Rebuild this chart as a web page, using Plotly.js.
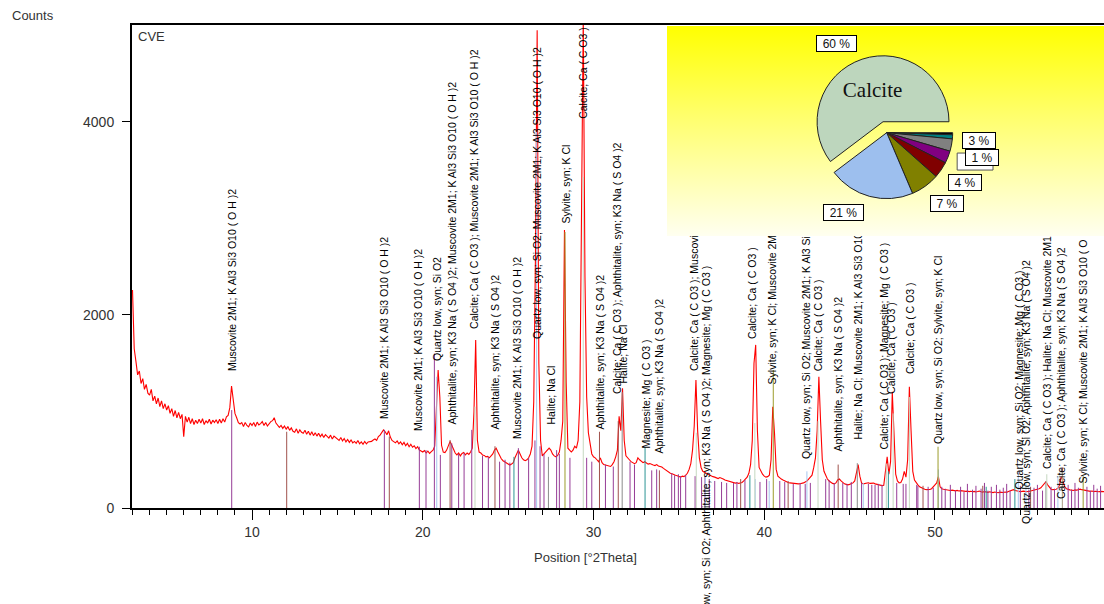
<!DOCTYPE html>
<html><head><meta charset="utf-8">
<script src="https://cdn.plot.ly/plotly-3.0.1.min.js"></script>
<style>
html,body{margin:0;padding:0;background:#fff;}
#wrap{position:relative;width:1104px;height:604px;overflow:hidden;}
#main{position:absolute;left:0;top:0;width:1104px;height:604px;}
#inset{position:absolute;left:667px;top:26px;width:437px;height:210px;background:linear-gradient(to bottom,#ffff00 0%,#ffff6a 42%,#fffff0 100%);}
</style></head><body>
<div id="wrap"><div id="main"></div><div id="inset"></div></div>
<script>
// ---- scan (Position [°2Theta] from scanStart in steps of scanStep) ----
const scanStart = 3.0;
const scanStep = 0.1;
const counts = [
2260,1650,1520,1380,1420,1290,1340,1230,1280,1190,
1170,1230,1110,1160,1080,1140,1050,1110,1030,1080,
1015,1060,980,1030,950,1010,935,990,925,970,
740,950,890,940,875,925,865,910,875,920,
880,925,865,905,880,920,870,910,885,915,
875,920,880,925,890,945,960,1040,1264,1120,
980,935,885,870,885,845,885,855,840,880,
855,885,845,890,860,875,895,855,885,850,
875,895,905,935,880,860,835,855,825,850,
815,845,805,830,795,785,820,775,810,785,
775,805,765,795,755,790,750,780,745,775,
740,765,730,760,740,725,755,715,745,730,
720,700,730,695,720,685,710,680,705,675,
690,670,700,665,685,660,690,665,685,690,
690,705,715,700,740,755,780,810,790,760,
800,735,700,685,675,695,665,685,655,680,
645,670,635,660,630,645,615,635,600,590,
580,595,570,590,565,585,600,640,1000,1430,
1150,650,580,575,600,640,690,650,600,570,
550,570,540,565,575,550,570,555,580,620,
1000,1740,700,580,570,550,545,530,535,520,
540,560,600,620,580,540,510,490,480,470,
460,445,455,470,520,570,600,560,520,500,
490,500,520,560,640,1100,2600,4950,1500,700,
540,560,580,610,620,600,560,540,530,545,
580,700,900,2880,1300,620,600,580,600,640,
620,700,1100,3200,5100,2400,1150,780,640,560,
530,520,500,480,520,470,450,445,440,435,
430,450,480,530,600,950,800,1240,700,540,
515,500,480,470,460,470,520,500,480,470,
480,470,455,460,450,445,440,450,435,430,
425,410,395,380,370,360,355,345,340,335,
330,320,330,325,340,360,400,460,600,850,
1326,800,520,420,380,365,360,350,340,335,
325,320,310,305,315,310,300,290,285,280,
275,265,260,258,262,255,260,265,280,300,
320,360,450,700,1500,1690,800,420,380,350,
330,320,325,340,500,1050,780,400,330,310,
300,290,280,270,265,260,258,255,250,255,
250,252,255,260,270,280,300,320,340,420,
520,800,1360,900,500,380,330,300,280,265,
255,250,260,290,300,280,260,250,245,240,
245,250,260,280,380,450,330,260,250,252,
258,262,255,260,258,250,245,240,235,232,
235,400,530,350,480,1205,750,350,280,260,
265,300,380,320,500,1257,800,380,290,260,
240,220,210,200,195,190,188,192,200,215,
240,260,325,220,200,195,190,185,188,182,
185,180,178,182,176,180,175,178,172,175,
170,174,168,172,166,170,175,168,165,170,
166,162,168,164,160,165,162,158,164,160,
160,165,162,170,178,185,190,182,175,172,
168,172,175,170,168,172,176,180,185,190,
195,200,210,230,250,273,240,210,195,190,
192,195,205,240,325,280,220,200,190,188,
185,182,188,185,190,195,190,185,182,178,
175,172,176,170,174,170,168,172,170,170
];

// ---- reference patterns (stick positions / intensities) ----
const muscovitePos = [8.81,17.75,19.8,20.19,20.68,21.03,21.7,22.1,22.42,22.87,23.5,23.84,24.5,24.82,25.1,25.6,26.2,26.57,26.87,27.1,27.84,28.0,28.62,29.6,29.9,30.7,31.16,32.14,32.4,33.41,33.7,34.58,34.75,34.97,35.1,35.4,35.95,36.33,36.53,36.78,37.1,37.5,37.8,38.2,38.4,38.87,39.75,40.14,40.91,41.2,41.7,42.1,42.4,42.7,43.6,43.8,44.1,44.6,44.85,45.1,45.7,46.1,46.3,46.49,46.68,46.9,47.76,48.14,48.3,48.93,49.0,49.6,49.9,50.4,50.6,50.9,51.2,51.5,51.7,51.9,52.2,52.4,52.7,52.9,53.1,53.3,53.6,53.8,54.0,54.2,54.4,55.0,55.5,55.8,56.0,56.3,56.8,57.0,57.8,58.0,58.2,58.4,58.9,59.1,59.3,59.5,59.7];
const muscoviteInt = [1015,810,635,600,1600,550,670,560,570,810,540,530,480,500,470,620,520,700,640,560,600,560,520,520,480,450,430,480,450,390,400,360,340,350,330,340,330,320,330,300,280,270,260,260,270,290,270,300,280,270,250,260,250,260,300,290,260,260,250,270,260,250,240,240,250,240,260,250,250,240,230,220,210,220,200,240,180,220,170,250,190,230,200,260,180,220,240,190,210,250,180,230,190,210,240,180,220,200,240,190,260,210,220,180,240,200,230];
const aphthitalitePos = [12.03,18.04,21.6,24.23,30.35,31.45,33.86,38.62,41.4,44.33,49.3,52.8,55.6,57.47];
const aphthitaliteInt = [790,740,705,640,790,900,390,300,280,450,230,230,220,420];
const quartzPos = [20.82,26.67,36.55,39.47,40.29,42.5,45.8,50.2,54.88,55.33,57.2];
const quartzInt = [1360,3900,330,300,280,380,260,400,380,260,330];
const calcitePos = [23.06,29.4,36.02,39.45,43.15,47.15,47.55,48.5,56.55,57.45];
const calciteInt = [1050,3430,780,880,900,460,980,1150,350,380];
const sylvitePos = [28.33,40.53,50.18,58.68];
const sylviteInt = [2860,1430,635,330];
const halitePos = [27.36,31.68,45.45,56.5];
const haliteInt = [530,1200,465,280];
const magnesitePos = [25.34,33.02,39.16,47.27,53.0,54.68];
const magnesiteInt = [530,630,340,380,220,300];

// ---- peak labels ----
const C = 'Calcite; Ca ( C O3 )';
const A = 'Aphthitalite, syn; K3 Na ( S O4 )2';
const M = 'Muscovite 2M1; K Al3 Si3 O10 ( O H )2';
const Q = 'Quartz low, syn; Si O2';
const H = 'Halite; Na Cl';
const S = 'Sylvite, syn; K Cl';
const G = 'Magnesite; Mg ( C O3 )';
const peakLabelText = [M, M, M, Q, A+'; '+M, C+'; '+M, A, M, Q+'; '+M, H,
  S, C, A, C+'; '+A, H, G, A, C+'; '+M, Q+'; '+A+'; '+G, C,
  S+'; '+M, Q+'; '+M, C, A, H+'; '+M, C+'; '+G, C, C, Q+'; '+S, Q+'; '+G,
  Q+'; '+A, C+'; '+H+'; '+M, C+'; '+A, S+'; '+M];
const peakLabelPos = [8.83,17.73,19.72,20.83,21.71,23.0,24.23,25.52,26.69,27.51,
  28.39,29.38,30.38,31.38,31.73,33.02,33.78,35.89,36.59,39.28,
  40.51,42.45,43.16,44.32,45.49,47.01,47.42,48.54,50.18,54.92,
  55.33,56.56,57.38,58.67];
const peakLabelBase = [1409,912,788,1513,860,1845,808,705,1741,860,
  2933,4021,808,1171,1275,601,549,1409,-1430,1741,
  1275,497,1409,580,705,601,1171,1378,653,187,
  -176,394,83,238];

// ---- phase quantification (pie), clockwise from 3 o'clock ----
const pieMinerals = ['Other','Magnesite','Halite','Muscovite','Aphthitalite','Sylvite','Quartz','Calcite'];
const pieShares = [0.5,1,3,3,4,7,21,60];

const yMax = 5005;
const xRange = [2.97, 59.9];

// ------------------------------------------------------------
function sticks(pos, inten, color) {
  const x = [], y = [];
  for (let i = 0; i < Math.min(pos.length, inten.length); i++) {
    x.push(pos[i], pos[i], null);
    y.push(0, inten[i], null);
  }
  return {type:'scatter', mode:'lines', x:x, y:y, line:{color:color, width:1}, hoverinfo:'skip', connectgaps:false};
}

const traces = [
  {type:'scatter', mode:'lines', x0:scanStart, dx:scanStep, y:counts, line:{color:'#ff0000', width:1.1}, hoverinfo:'skip'},
  sticks(muscovitePos, muscoviteInt, '#963c96'),
  sticks(aphthitalitePos, aphthitaliteInt, '#a0524d'),
  sticks(magnesitePos, magnesiteInt, '#2c9494'),
  sticks(halitePos, haliteInt, '#8c8c8c'),
  sticks(quartzPos, quartzInt, '#a6c6ee'),
  sticks(calcitePos, calciteInt, '#c5d8c0'),
  sticks(sylvitePos, sylviteInt, '#9c9c2c')
];

const annotations = [];
for (let i = 0; i < peakLabelText.length; i++) {
  const b = peakLabelBase[i];
  const a = {x: peakLabelPos[i], xref:'x', text: peakLabelText[i], textangle:-90,
    showarrow:false, xanchor:'center', yanchor:'bottom', borderpad:0,
    font:{family:'Liberation Sans, Arial, sans-serif', size:10.5, color:'#000'}};
  if (b < 0) { a.yref = 'paper'; a.y = b / yMax; } else { a.yref = 'y'; a.y = b; }
  annotations.push(a);
}
annotations.push({xref:'paper', yref:'paper', x:-0.1255, y:1.0207, xanchor:'left', yanchor:'middle', text:'Counts', showarrow:false, font:{family:'Liberation Sans, Arial', size:13, color:'#333'}});
annotations.push({xref:'paper', yref:'paper', x:0.004, y:0.977, xanchor:'left', yanchor:'middle', text:'CVE', showarrow:false, font:{family:'Liberation Sans, Arial', size:13, color:'#333'}});
annotations.push({xref:'paper', yref:'paper', x:0.467, y:-0.1035, xanchor:'center', yanchor:'middle', text:'Position [°2Theta]', showarrow:false, font:{family:'Liberation Sans, Arial', size:13, color:'#333'}});

const layout = {
  width:1104, height:604,
  margin:{l:132, r:0, t:25, b:96, pad:0},
  paper_bgcolor:'#ffffff', plot_bgcolor:'#ffffff',
  showlegend:false, hovermode:false,
  xaxis:{range:xRange, tick0:0, dtick:10, ticks:'outside', ticklen:10, tickwidth:1, tickcolor:'#000',
    showline:true, linewidth:2, linecolor:'#000', mirror:true, showgrid:false, zeroline:false,
    tickfont:{family:'Liberation Sans, Arial', size:14, color:'#333'},
    minor:{dtick:1, tick0:0, ticks:'outside', ticklen:5, tickwidth:1, tickcolor:'#000', showgrid:false}},
  yaxis:{range:[0, yMax], tick0:0, dtick:2000, ticks:'outside', ticklen:8, tickwidth:1, tickcolor:'#000',
    showline:true, linewidth:2, linecolor:'#000', showgrid:false, zeroline:false, ticklabelstandoff:5,
    tickfont:{family:'Liberation Sans, Arial', size:14, color:'#333'}},
  annotations: annotations
};

Plotly.newPlot('main', traces, layout, {staticPlot:true, displayModeBar:false});

// ---- inset pie ----
const pieColors = ['#000000','#008080','#808080','#800080','#800000','#808000','#9dbfee','#bdd6bd'];
const piePull = pieMinerals.map(m => m === 'Calcite' ? 0.175 : 0);
const pieText = pieMinerals.map(m => m === 'Calcite' ? 'Calcite' : '');
const pieLabelAt = {Calcite:[0.388,0.919], Quartz:[0.403,0.112], Sylvite:[0.641,0.155], Aphthitalite:[0.683,0.257], Halite:[0.715,0.457], Magnesite:[0.721,0.376]};

const insetAnn = [];
pieMinerals.forEach((m, i) => {
  const p = pieLabelAt[m];
  if (!p) return;
  const txt = pieShares[i] + ' %';
  insetAnn.push({xref:'paper', yref:'paper', x:p[0], y:p[1], xanchor:'center', yanchor:'middle',
    text:txt, showarrow:false, bgcolor:'#ffffff', bordercolor:'#000', borderwidth:1, borderpad:1,
    width: txt.length > 3 ? 37 : 30, height:13,
    font:{family:'Liberation Sans, Arial', size:12, color:'#111'}});
});

Plotly.newPlot('inset', [{
  type:'pie', values:pieShares, labels:pieMinerals, sort:false, direction:'clockwise', rotation:90,
  pull:piePull, text:pieText, textinfo:'text', textposition:'inside', insidetextorientation:'horizontal',
  insidetextfont:{family:'Liberation Serif, Times New Roman, serif', size:21, color:'#111'},
  marker:{colors:pieColors, line:{color:'#222', width:1}},
  domain:{x:[0.3254,0.6801], y:[0.1229,0.861]}, hoverinfo:'none'
}], {
  width:437, height:210, margin:{l:0,r:0,t:0,b:0}, paper_bgcolor:'rgba(0,0,0,0)', showlegend:false,
  shapes:[{type:'rect', xref:'paper', yref:'paper', x0:0.664, x1:0.746, y0:0.314, y1:0.395,
    fillcolor:'#ffffff', line:{color:'#555', width:1}}],
  annotations: insetAnn
}, {staticPlot:true, displayModeBar:false});
</script></body></html>
